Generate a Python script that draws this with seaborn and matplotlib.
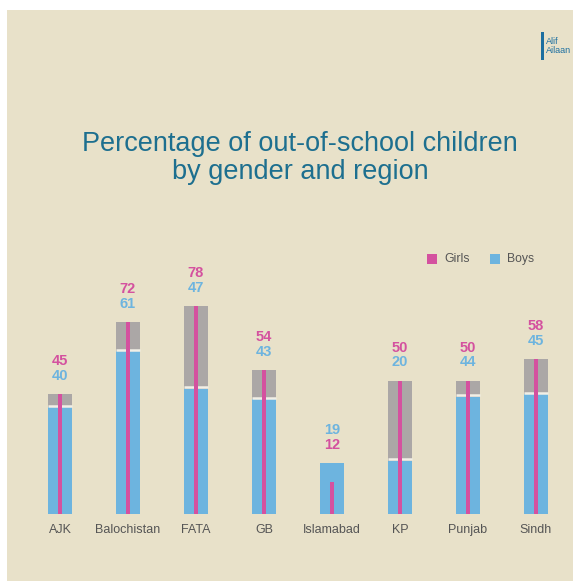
import matplotlib
matplotlib.use("Agg")
import matplotlib.pyplot as plt
import seaborn as sns
import pandas as pd
import numpy as np
from matplotlib.patches import Rectangle

regions = ["AJK", "Balochistan", "FATA", "GB", "Islamabad", "KP", "Punjab", "Sindh"]
girls = [45, 72, 78, 54, 12, 50, 50, 58]
boys = [40, 61, 47, 43, 19, 20, 44, 45]

BG = "#e8e1c9"
GREY = "#aba7a6"
BLUE = "#6db4df"
MAGENTA = "#d4519f"
TEAL = "#1d6f8f"
TXT = "#555555"

sns.set_theme(style="white")
plt.rcParams["font.family"] = ["Liberation Sans", "DejaVu Sans"]

df = pd.DataFrame({"region": regions, "girls": girls, "boys": boys})
df["top"] = df[["girls", "boys"]].max(axis=1)

W, H = 573, 581
fig = plt.figure(figsize=(W / 100, H / 100), dpi=100, facecolor="white")
fig.patches.append(Rectangle((7 / W, 0), 1 - 7 / W, 1 - 10 / H, transform=fig.transFigure,
                             facecolor=BG, edgecolor="none", zorder=-5))

base = 67  # px from bottom
ppu = 2.67  # px per unit
ax = fig.add_axes([0, base / H, 1, (H - base) / H])
ax.set_zorder(2)
ax.set_facecolor("none")
ax.patch.set_alpha(0)

sns.barplot(data=df, x="region", y="top", color=GREY, width=0.355, ax=ax,
            saturation=1, edgecolor="none", zorder=2)
sns.barplot(data=df, x="region", y="boys", color=BLUE, width=0.355, ax=ax,
            saturation=1, edgecolor="none", zorder=3)
sns.barplot(data=df, x="region", y="girls", color=MAGENTA, width=0.06, ax=ax,
            saturation=1, edgecolor="none", zorder=5)

xs = np.arange(len(regions))
for i, (g, b) in enumerate(zip(girls, boys)):
    if g > b:
        ax.hlines(b + 0.5, i - 0.355 / 2, i + 0.355 / 2, color="#f2efe6", lw=1.8, zorder=4)
    top = max(g, b)
    hi, lo = (g, b) if g >= b else (b, g)
    hic, loc = (MAGENTA, BLUE) if g >= b else (BLUE, MAGENTA)
    ax.text(i, top + 18 / ppu, str(lo), ha="center", va="center", fontsize=10.5,
            fontweight="bold", color=loc)
    ax.text(i, top + 33 / ppu, str(hi), ha="center", va="center", fontsize=10.5,
            fontweight="bold", color=hic)

ax.set_xlim(-60 / 68, (W - 60) / 68)
ax.set_ylim(0, (H - base) / ppu)
ax.set_xlabel("")
ax.set_ylabel("")
ax.set_yticks([])
ax.set_xticks(xs)
ax.set_xticklabels(regions, fontsize=9, color=TXT)
ax.tick_params(axis="x", length=0, pad=7)
for s in ax.spines.values():
    s.set_visible(False)

fig.text(300 / W, 1 - 158 / H, "Percentage of out-of-school children\nby gender and region",
         ha="center", va="center", fontsize=19.5, color=TEAL, linespacing=1.12)

# legend
fig.patches.append(Rectangle((427 / W, 1 - 264 / H), 10 / W, 10 / H, transform=fig.transFigure,
                             facecolor=MAGENTA, edgecolor="none"))
fig.text(444 / W, 1 - 259 / H, "Girls", ha="left", va="center", fontsize=8.8, color=TXT)
fig.patches.append(Rectangle((490 / W, 1 - 264 / H), 10 / W, 10 / H, transform=fig.transFigure,
                             facecolor=BLUE, edgecolor="none"))
fig.text(507 / W, 1 - 259 / H, "Boys", ha="left", va="center", fontsize=8.8, color=TXT)

# logo
fig.patches.append(Rectangle((541 / W, 1 - 60 / H), 3 / W, 28 / H, transform=fig.transFigure,
                             facecolor="#1d6fa0", edgecolor="none"))
fig.text(546 / W, 1 - 46 / H, "Alif\nAilaan", ha="left", va="center", fontsize=6.5,
         color="#1d6fa0", linespacing=1.0)

fig.savefig("out.png", dpi=100, facecolor="white")
